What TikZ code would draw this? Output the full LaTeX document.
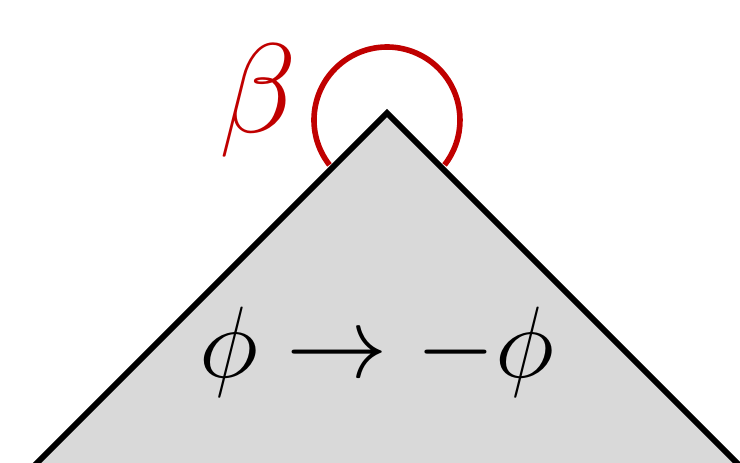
\documentclass[tikz,border=0pt]{standalone}
\definecolor{anglered}{RGB}{192,0,0}
\usepackage{amsmath,amssymb}
\usepackage{graphicx}
\usepackage{tikz}
\usetikzlibrary{positioning,calc}

\begin{document}
\begin{tikzpicture}[x=0.5pt,y=0.5pt,
      wedge/.style={draw=black,fill=black!15,line width=2.9pt,line join=miter},
      anglearc/.style={draw=anglered,line width=2.8pt},
      biglabel/.style={inner sep=0pt,font=\Huge}
    ]
      \useasboundingbox (0,0) rectangle (740,462);
      \clip (0,0) rectangle (740,462);
      % corners of the wedge
      \coordinate (apex) at (387,349);
      \coordinate (left) at (-20,-58);
      \coordinate (right) at (794,-58);
      \coordinate (arccentre) at (387,342);
      % wedge
      \draw[wedge] (left) -- (apex) -- (right);
      % reflex angle at the apex
      \draw[anglearc] ($(arccentre)+(218:73)$) arc[start angle=218,end angle=-38,radius=73];
      \node[biglabel,text=anglered] (beta) at (258,361) {\scalebox{2.556}{$\beta$}};
      % reflection label
      \node[biglabel] (flip) at (377,110) {\scalebox{2.04}{$\phi \to -\phi$}};
    \end{tikzpicture}
\end{document}
